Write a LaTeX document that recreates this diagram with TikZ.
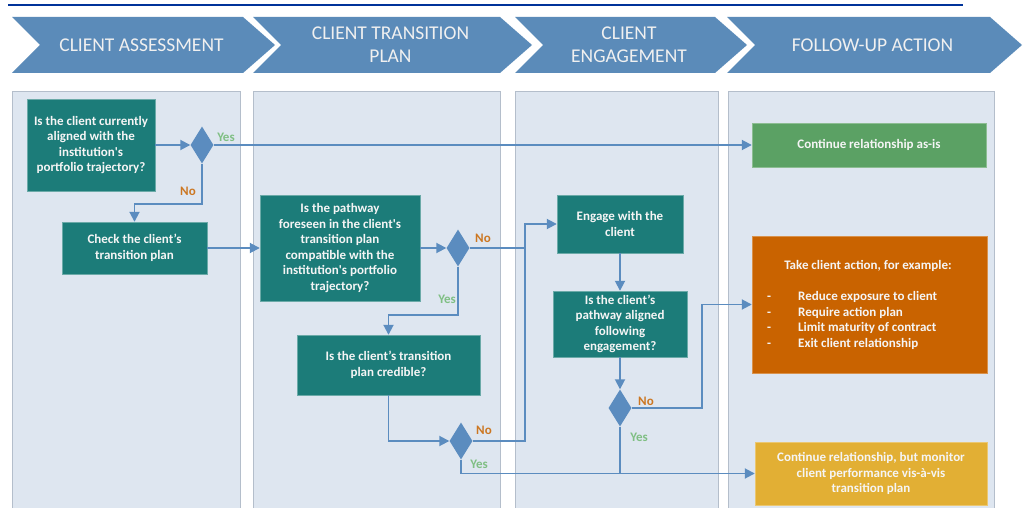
\documentclass[tikz,border=0pt]{standalone}
\usepackage{fontspec}
\setmainfont{Carlito}
\usepackage{xcolor}
\usepackage{tikz}
\usetikzlibrary{shapes,shapes.geometric,arrows.meta,calc,positioning}
\definecolor{headblue}{HTML}{5B8BB9}
\definecolor{lanefill}{HTML}{DEE6F0}
\definecolor{laneline}{HTML}{B4BECB}
\definecolor{tealbox}{HTML}{1C7C79}
\definecolor{flowblue}{HTML}{5B8CBF}
\definecolor{okgreen}{HTML}{5BA164}
\definecolor{actorange}{HTML}{C96300}
\definecolor{watchgold}{HTML}{E2AF34}
\definecolor{yesgreen}{HTML}{7FBF83}
\definecolor{noorange}{HTML}{CC7722}
\definecolor{topnavy}{HTML}{00339A}
\tikzset{
  chev/.style={fill=headblue},
  head_txt/.style={align=center, text=white!94!black, inner sep=0pt, font=\fontsize{19.5}{23}\selectfont},
  lane/.style={fill=lanefill, draw=laneline, line width=0.8pt},
  box/.style={rectangle, draw=white!35!tealbox, fill=tealbox, text=white!96!black, align=center, inner sep=2pt, font=\bfseries\fontsize{13}{15.5}\selectfont},
  dec/.style={diamond, fill=flowblue, inner sep=0pt, minimum width=23pt, minimum height=37pt},
  arr/.style={draw=flowblue, line width=1.8pt, -{Triangle[length=10pt,width=10pt]}},
  ln/.style={draw=flowblue, line width=1.8pt},
  lbl_yes/.style={text=yesgreen, inner sep=0pt, font=\bfseries\fontsize{13}{15}\selectfont},
  lbl_no/.style={text=noorange, inner sep=0pt, font=\bfseries\fontsize{13}{15}\selectfont}
}

\begin{document}
\begin{tikzpicture}[x=1pt,y=-1pt]
	\useasboundingbox (0,0) rectangle (1029,508);
	\draw[topnavy, line width=2pt] (8,5) -- (963,5);
	\foreach \xa/\xb/\txt [count=\i] in {12/243/{CLIENT ASSESSMENT},253/500/{CLIENT TRANSITION\\PLAN},515/715/{CLIENT\\ENGAGEMENT},727/990/{FOLLOW-UP ACTION}}{
		\fill[chev] (\xa,17) -- (\xb,17) -- (\xb+32,45) -- (\xb,73) -- (\xa,73) -- (\xa+28,45) -- cycle;
		\node[head_txt] (h\i) at ({(\xa+\xb)/2+14},45) {\txt};
	}
	\foreach \xa/\xb in {12/240,253/500,515/718,728/994}
		\filldraw[lane] (\xa,91) rectangle (\xb,508.5);

	\node[box, minimum width=128pt, minimum height=92pt] (q1) at (91,145) {Is the client currently\\aligned with the\\institution\textquotesingle s\\portfolio trajectory?};
	\node[dec] (d1) at (202,145) {};
	\node[box, minimum width=145pt, minimum height=52pt] (chk) at (134.5,248) {Check the client’s\\transition plan};
	\node[box, minimum width=160pt, minimum height=106pt] (q2) at (340,248) {Is the pathway\\foreseen in the client\textquotesingle s\\transition plan\\compatible with the\\institution\textquotesingle s portfolio\\trajectory?};
	\node[dec] (d2) at (458,248) {};
	\node[box, minimum width=183pt, minimum height=60pt] (q3) at (388.5,365) {Is the client’s transition\\plan credible?};
	\node[dec] (d3) at (461,441) {};
	\node[box, minimum width=126pt, minimum height=58pt] (eng) at (620,224) {Engage with the\\client};
	\node[box, minimum width=134pt, minimum height=66pt] (q4) at (620,324) {Is the client’s\\pathway aligned\\following\\engagement?};
	\node[dec] (d4) at (620,408) {};
	\node[box, fill=okgreen, draw=white!30!okgreen, minimum width=234pt, minimum height=44pt] (keep) at (869,145) {Continue relationship as-is};
	\node[box, fill=actorange, draw=white!30!actorange, minimum width=235pt, minimum height=137pt] (act) at (869.5,304.5) {};
	\node[box, fill=none, draw=none, inner sep=0pt] (act_t) at (868,266) {Take client action, for example:};
	\node[box, fill=none, draw=none, inner sep=0pt, align=left, anchor=west] (act_l) at (767,320.5) {\makebox[31pt][l]{-}Reduce exposure to client\\\makebox[31pt][l]{-}Require action plan\\\makebox[31pt][l]{-}Limit maturity of contract\\\makebox[31pt][l]{-}Exit client relationship};
	\node[box, fill=watchgold, draw=white!30!watchgold, minimum width=232pt, minimum height=63pt] (watch) at (871,473.5) {Continue relationship, but monitor\\client performance vis-à-vis\\transition plan};

	\draw[arr] (q1.east) -- (d1.west);
	\draw[arr] (d1.east) -- (keep.west);
	\draw[arr] (d1.south) -- ++(0,40) -| (chk.north);
	\draw[arr] (chk.east) -- (q2.west);
	\draw[arr] (q2.east) -- (d2.west);
	\draw[arr] (d2.east) -- ++(55,0) coordinate (j_no) |- (eng.west);
	\draw[arr] (d2.south) -- ++(0,48) -| (q3.north);
	\draw[arr] (q3.south) |- (d3.west);
	\draw[ln] (d3.east) -| (j_no);
	\draw[arr] (d3.south) |- (watch.west);
	\draw[arr] (eng.south) -- (q4.north);
	\draw[arr] (q4.south) -- (d4.north);
	\draw[arr] (d4.east) -- ++(70,0) |- (act.west);
	\draw[ln] (d4.south) -- (d4.south |- watch.west);

	\node[lbl_yes] (y1) at (226,137) {Yes};
	\node[lbl_no] (n1) at (188,191) {No};
	\node[lbl_no] (n2) at (483,238) {No};
	\node[lbl_yes] (y2) at (447,299) {Yes};
	\node[lbl_no] (n3) at (484,430) {No};
	\node[lbl_yes] (y3) at (479,464) {Yes};
	\node[lbl_no] (n4) at (646,401) {No};
	\node[lbl_yes] (y4) at (639,437) {Yes};
\end{tikzpicture}
\end{document}
